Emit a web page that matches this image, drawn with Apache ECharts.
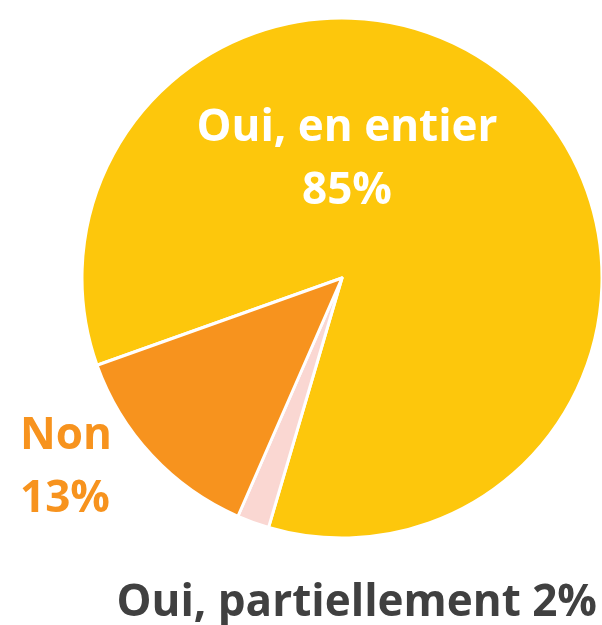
<!DOCTYPE html>
<html><head><meta charset="utf-8">
<script src="https://cdn.jsdelivr.net/npm/echarts@6/dist/echarts.min.js"></script>
<style>html,body{margin:0;padding:0;background:#fff}#c{width:602px;height:625px}</style>
</head><body><div id="c"></div>
<script>
const categories = ["Oui, en entier", "Oui, partiellement", "Non"];
const values = [85, 2, 13];
const colors = ["#FDC70C", "#FAD7D2", "#F7931E"];
const labelColors = ["#FFFFFF", "#404040", "#F7931E"];
const labelFormats = ["{b}\n{c}%", "{b} {c}%", "Non\n{c}%"];
const labelPos = [[347, 160, 'center'], [597, 603, 'right'], [20, 468, 'left']];

const chart = echarts.init(document.getElementById('c'));
chart.setOption({
  animation: false,
  series: [{
    type: 'pie',
    center: [342, 278],
    radius: 260,
    startAngle: 199.6,
    clockwise: true,
    data: categories.map((n, i) => ({
      name: n, value: values[i],
      itemStyle: { color: colors[i] },
      label: { color: labelColors[i], formatter: labelFormats[i] }
    })),
    itemStyle: { borderColor: '#fff', borderWidth: 3 },
    label: {
      show: true, position: 'inside', overflow: 'none',
      fontFamily: 'Open Sans', fontWeight: 'bold', fontSize: 44, lineHeight: 63
    },
    labelLine: { show: false },
    labelLayout: function (p) {
      const lp = labelPos[p.dataIndex];
      return { x: lp[0], y: lp[1], align: lp[2], verticalAlign: 'middle' };
    }
  }]
});
</script></body></html>
